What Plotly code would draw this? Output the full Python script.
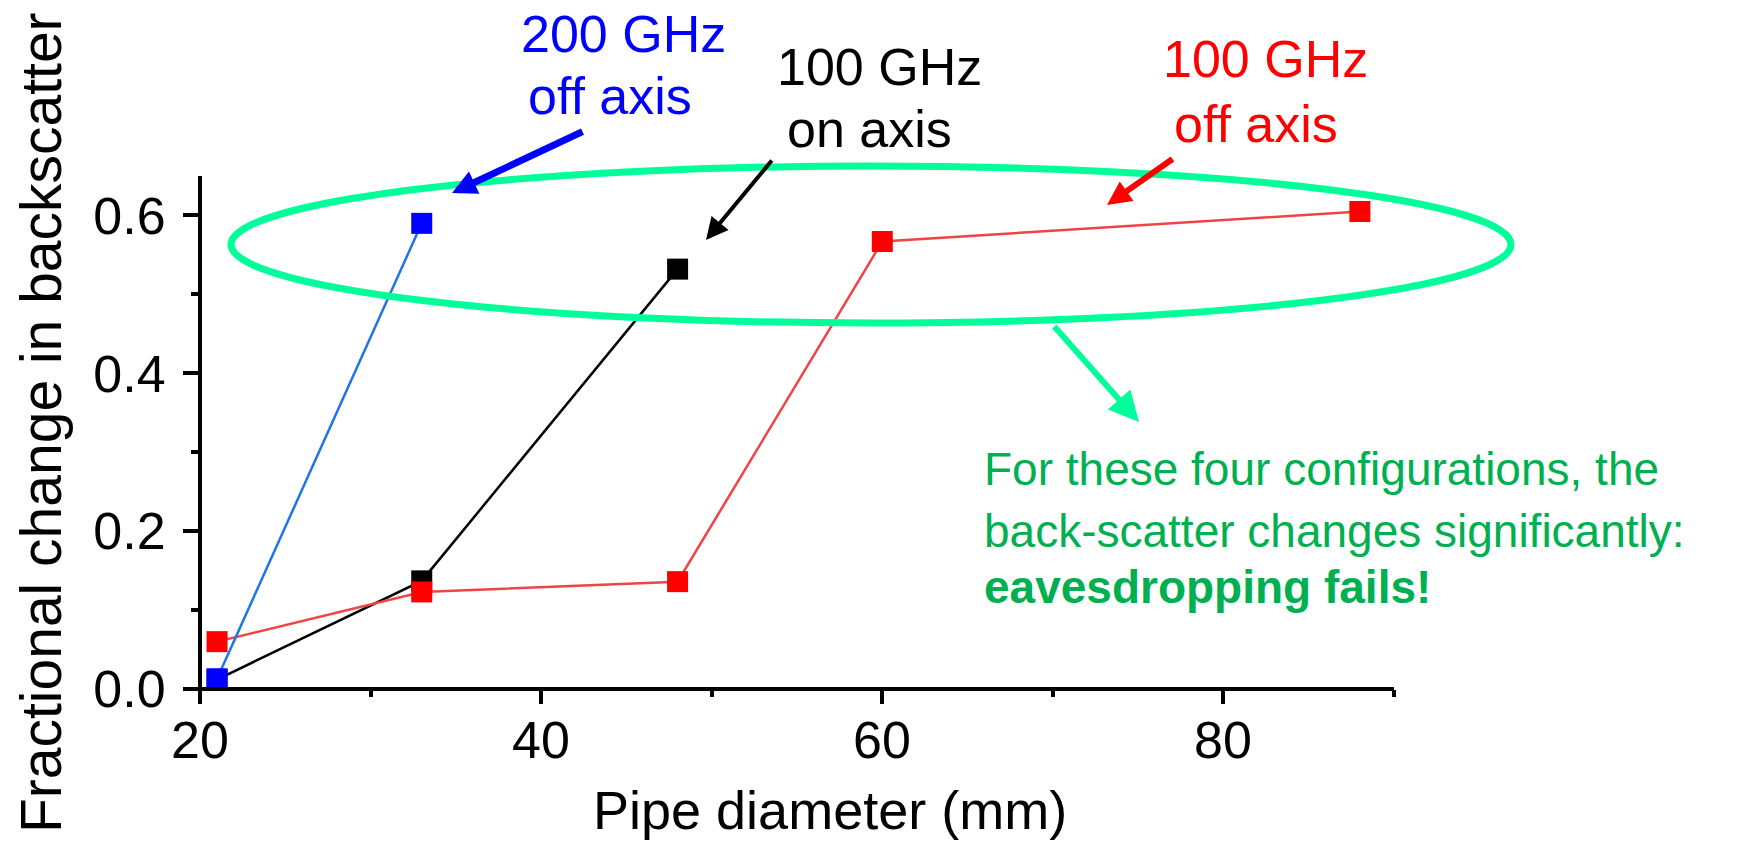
import plotly.graph_objects as go

# Pipe diameter (mm) and fractional change in backscatter for each configuration
diameter_on_100 = [21, 33, 48]
change_on_100 = [0.012, 0.137, 0.532]

diameter_off_100 = [21, 33, 48, 60, 88]
change_off_100 = [0.060, 0.123, 0.136, 0.567, 0.605]

diameter_off_200 = [21, 33]
change_off_200 = [0.013, 0.590]

x_major_ticks = [20, 40, 60, 80]
x_major_labels = ["20", "40", "60", "80"]
x_minor_ticks = [30, 50, 70, 90]
y_major_ticks = [0.0, 0.2, 0.4, 0.6]
y_major_labels = ["0.0", "0.2", "0.4", "0.6"]
y_minor_ticks = [0.1, 0.3, 0.5]

label_off_200 = ["200 GHz", "off axis"]
label_on_100 = ["100 GHz", "on axis"]
label_off_100 = ["100 GHz", "off axis"]
note_lines = [
    "For these four configurations, the",
    "back-scatter changes significantly:",
    "<b>eavesdropping fails!</b>",
]

FONT = "Liberation Sans, Arial, sans-serif"
W, H = 1737, 843
L, R, T, B = 200, 343, 176, 154
PW, PH = W - L - R, H - T - B


def px(x):
    """pixel column -> paper x"""
    return (x - L) / PW


def py(y):
    """pixel row -> paper y"""
    return (H - B - y) / PH


fig = go.Figure()

series = [
    (diameter_on_100, change_on_100, "#000000", "#000000"),
    (diameter_off_100, change_off_100, "#F04444", "#FF0000"),
    (diameter_off_200, change_off_200, "#1E76E4", "#0000FF"),
]
for xs, ys, line_col, mark_col in series:
    fig.add_trace(go.Scatter(
        x=xs, y=ys, mode="lines+markers",
        line=dict(color=line_col, width=2.5),
        marker=dict(symbol="square", size=21, color=mark_col, line=dict(width=0)),
        cliponaxis=False, showlegend=False, hoverinfo="skip",
    ))

axis_common = dict(
    showgrid=False, zeroline=False, showline=False,
    ticks="outside", tickwidth=4, tickcolor="black",
    tickfont=dict(family=FONT, size=52, color="black"),
)

fig.update_xaxes(
    range=[20, 90], tickvals=x_major_ticks, ticklen=14, showticklabels=False,
    minor=dict(tickvals=x_minor_ticks, ticks="outside", ticklen=7,
               tickwidth=4, tickcolor="black"),
    **axis_common,
)
fig.update_yaxes(
    range=[0, 0.65], tickvals=y_major_ticks, ticktext=y_major_labels, ticklen=16,
    minor=dict(tickvals=y_minor_ticks, ticks="outside", ticklen=8,
               tickwidth=4, tickcolor="black"),
    ticklabelstandoff=7,
    **axis_common,
)

shapes = [
    # axis lines, slightly overshooting at the origin
    dict(type="line", xref="paper", yref="paper", x0=px(183), x1=1.0, y0=0, y1=0,
         line=dict(color="black", width=4)),
    dict(type="line", xref="paper", yref="paper", x0=0, x1=0, y0=py(703), y1=1.0,
         line=dict(color="black", width=4)),
    # highlight ellipse around the high-change points
    dict(type="circle", xref="paper", yref="paper", layer="above",
         x0=px(231), x1=px(1511), y0=py(323), y1=py(166),
         line=dict(color="#00FF99", width=7)),
]

annotations = []


def text_line(txt, x, y, color, size, anchor="center"):
    annotations.append(dict(
        text=txt, xref="paper", yref="paper", x=px(x), y=py(y),
        xanchor=anchor, yanchor="middle", showarrow=False,
        font=dict(family=FONT, size=size, color=color),
    ))


def arrow(tip, tail, color, width, size):
    annotations.append(dict(
        text="", xref="paper", yref="paper", x=px(tip[0]), y=py(tip[1]),
        ax=tail[0] - tip[0], ay=tail[1] - tip[1], axref="pixel", ayref="pixel",
        showarrow=True, arrowhead=2, arrowsize=size, arrowwidth=width,
        arrowcolor=color, standoff=0, startstandoff=0,
    ))


# x tick labels
for val, txt in zip(x_major_ticks, x_major_labels):
    annotations.append(dict(
        text=txt, xref="x", yref="paper", x=val, y=py(740),
        xanchor="center", yanchor="middle", showarrow=False,
        font=dict(family=FONT, size=52, color="black"),
    ))

# series labels
for txt, x, y in zip(label_off_200, [623, 610], [34, 96]):
    text_line(txt, x, y, "#0000FF", 52)
for txt, x, y in zip(label_on_100, [879, 870], [67, 129]):
    text_line(txt, x, y, "#000000", 52)
for txt, x, y in zip(label_off_100, [1265, 1256], [59, 124]):
    text_line(txt, x, y, "#FF0000", 52)

# arrows from labels to points
arrow((452, 193), (584, 131), "#0000FF", 7, 0.7)
arrow((706, 240), (773, 159), "#000000", 4, 1.1)
arrow((1107, 205), (1174, 158), "#FF0000", 6, 0.8)
arrow((1139, 422), (1053, 325), "#00FF99", 6, 1.0)

# conclusion note
for txt, y in zip(note_lines, [469, 531, 587]):
    text_line(txt, 982, y, "#00B050", 46, anchor="left")

# axis titles
text_line("Pipe diameter (mm)", 830, 810, "black", 54)
annotations.append(dict(
    text="Fractional change in backscatter", xref="paper", yref="paper",
    x=px(41), y=py(423), xanchor="center", yanchor="middle", textangle=-90,
    showarrow=False, font=dict(family=FONT, size=57, color="black"),
))

fig.update_layout(
    width=W, height=H,
    margin=dict(l=L, r=R, t=T, b=B, pad=0),
    paper_bgcolor="white", plot_bgcolor="white",
    shapes=shapes, annotations=annotations,
)

fig.write_html("out.html")
